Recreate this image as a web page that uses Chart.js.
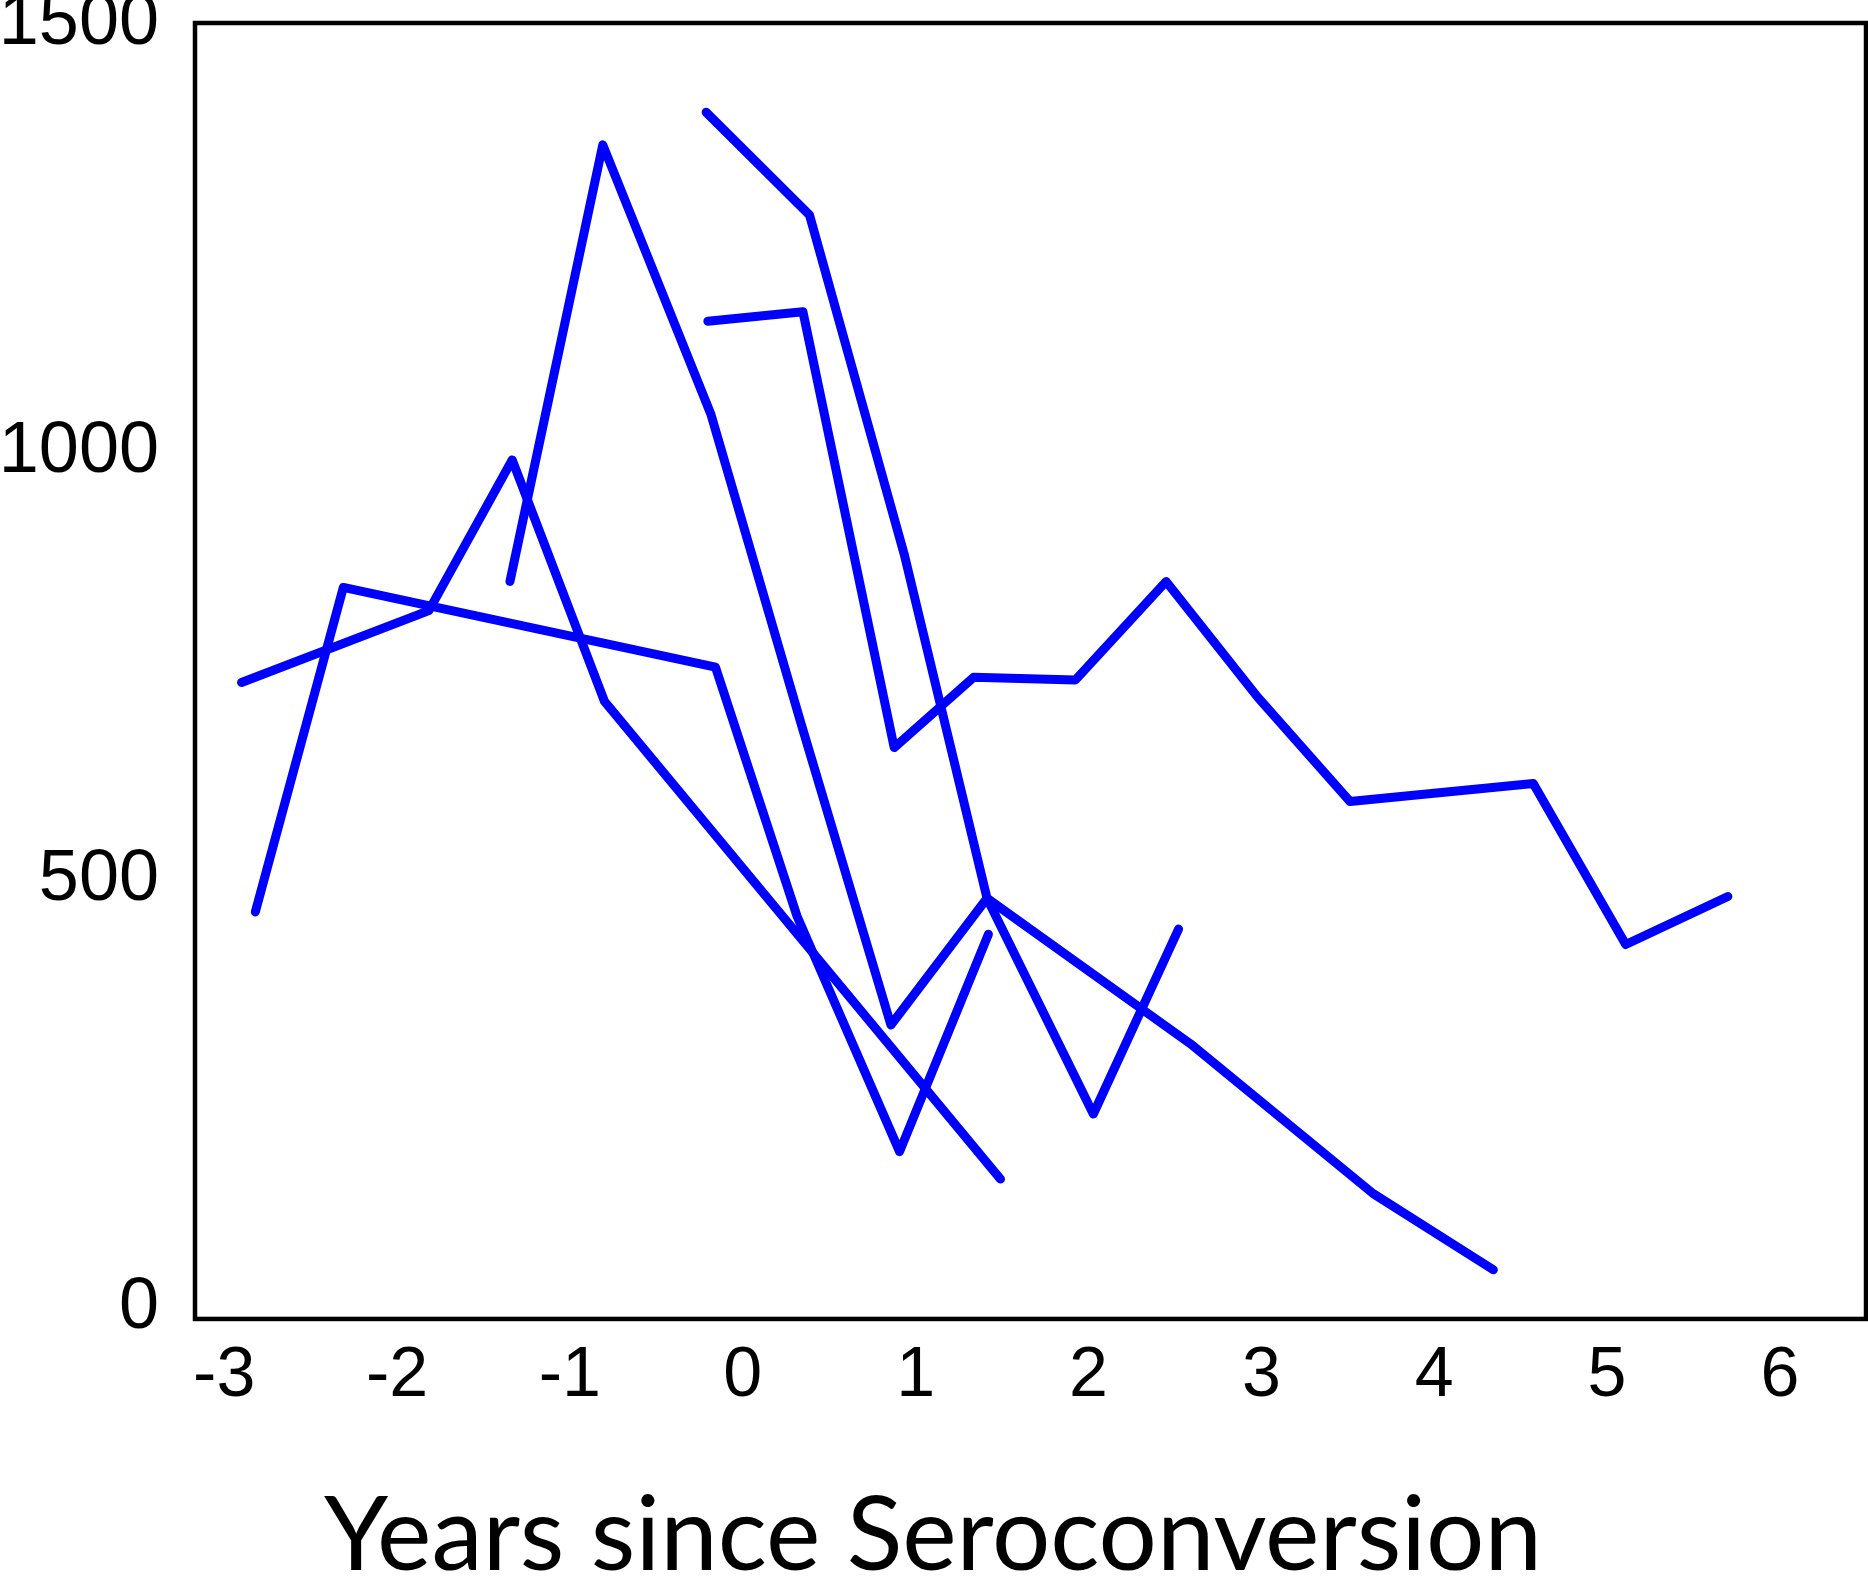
<!DOCTYPE html>
<html>
<head>
<meta charset="utf-8">
<script src="https://cdn.jsdelivr.net/npm/chart.js@4"></script>
<style>
    html, body { margin: 0; padding: 0; background: #fff; }
    #wrap { width: 1868px; height: 1577px; position: relative; }
</style>
</head>
<body>
<div id="wrap"><canvas id="cd4Chart"></canvas></div>
<script>
// years since seroconversion / CD4 count, one pair of arrays per patient
const yearsA = [-2.82, -2.311, -0.158, 0.314, 0.907, 1.421];
const cd4A   = [463, 842, 749, 458, 183, 437];

const yearsB = [-2.90, -1.816, -1.334, -0.800, 1.491];
const cd4B   = [731, 815, 991, 709, 151];

const yearsC = [-1.347, -0.810, -0.184, 0.337, 0.857, 1.413, 2.028, 2.521];
const cd4C   = [849, 1359, 1044, 683, 331, 479, 227, 443];

const yearsD = [-0.212, 0.386, 0.935, 1.413, 2.590, 3.647, 4.342];
const cd4D   = [1397, 1277, 880, 479, 309, 134, 45];

const yearsE = [-0.202, 0.348, 0.876, 1.335, 1.924, 2.449, 2.978, 3.513, 4.573, 5.108, 5.699];
const cd4E   = [1153, 1164, 655, 737, 734, 849, 714, 592, 613, 425, 481];

const xTicks = [-3, -2, -1, 0, 1, 2, 3, 4, 5, 6];
const yTicks = [0, 500, 1000, 1500];
const xTitle = 'Years since Seroconversion';

const patients = [
    [yearsA, cd4A], [yearsB, cd4B], [yearsC, cd4C], [yearsD, cd4D], [yearsE, cd4E]
];

const datasets = patients.map(([xs, ys]) => ({
    data: xs.map((x, i) => ({ x: x, y: ys[i] })),
    borderColor: '#0000ff',
    borderWidth: 9,
    borderCapStyle: 'round',
    borderJoinStyle: 'round',
    pointRadius: 0,
    fill: false,
    tension: 0
}));

const frameBox = {
    id: 'frameBox',
    afterDraw(chart) {
        const a = chart.chartArea;
        const ctx = chart.ctx;
        ctx.save();
        ctx.strokeStyle = '#000';
        ctx.lineWidth = 4.5;
        ctx.strokeRect(a.left, a.top, a.right - a.left, a.bottom - a.top);
        ctx.restore();
    }
};

new Chart(document.getElementById('cd4Chart'), {
    type: 'line',
    data: { datasets: datasets },
    options: {
        responsive: true,
        maintainAspectRatio: false,
        animation: false,
        layout: { padding: { top: 23, right: 2, left: 0, bottom: 0 } },
        plugins: {
            legend: { display: false },
            tooltip: { enabled: false },
            title: {
                display: true,
                position: 'bottom',
                text: xTitle,
                color: '#000',
                font: { family: 'Lato', size: 103, weight: 'normal', lineHeight: 0.78 },
                padding: { top: 0, bottom: 0 }
            }
        },
        scales: {
            x: {
                type: 'linear',
                min: -3.169,
                max: 6.498,
                grid: { display: false, drawTicks: false },
                border: { display: false },
                afterBuildTicks: s => { s.ticks = xTicks.map(v => ({ value: v })); },
                afterFit: s => { s.height = 177.7; s.paddingLeft = 0; s.paddingRight = 0; },
                ticks: {
                    color: '#000',
                    font: { family: 'Liberation Sans', size: 70 },
                    padding: 16,
                    maxRotation: 0,
                    autoSkip: false,
                    callback: v => String(v)
                }
            },
            y: {
                type: 'linear',
                min: -12.4,
                max: 1501.3,
                grid: { display: false, drawTicks: false },
                border: { display: false },
                afterBuildTicks: s => { s.ticks = yTicks.map(v => ({ value: v })); },
                afterFit: s => { s.width = 195; s.paddingTop = 0; s.paddingBottom = 0; },
                ticks: {
                    color: '#000',
                    font: { family: 'Liberation Sans', size: 72 },
                    padding: 36,
                    autoSkip: false,
                    callback: v => String(v)
                }
            }
        }
    },
    plugins: [frameBox]
});
</script>
</body>
</html>
